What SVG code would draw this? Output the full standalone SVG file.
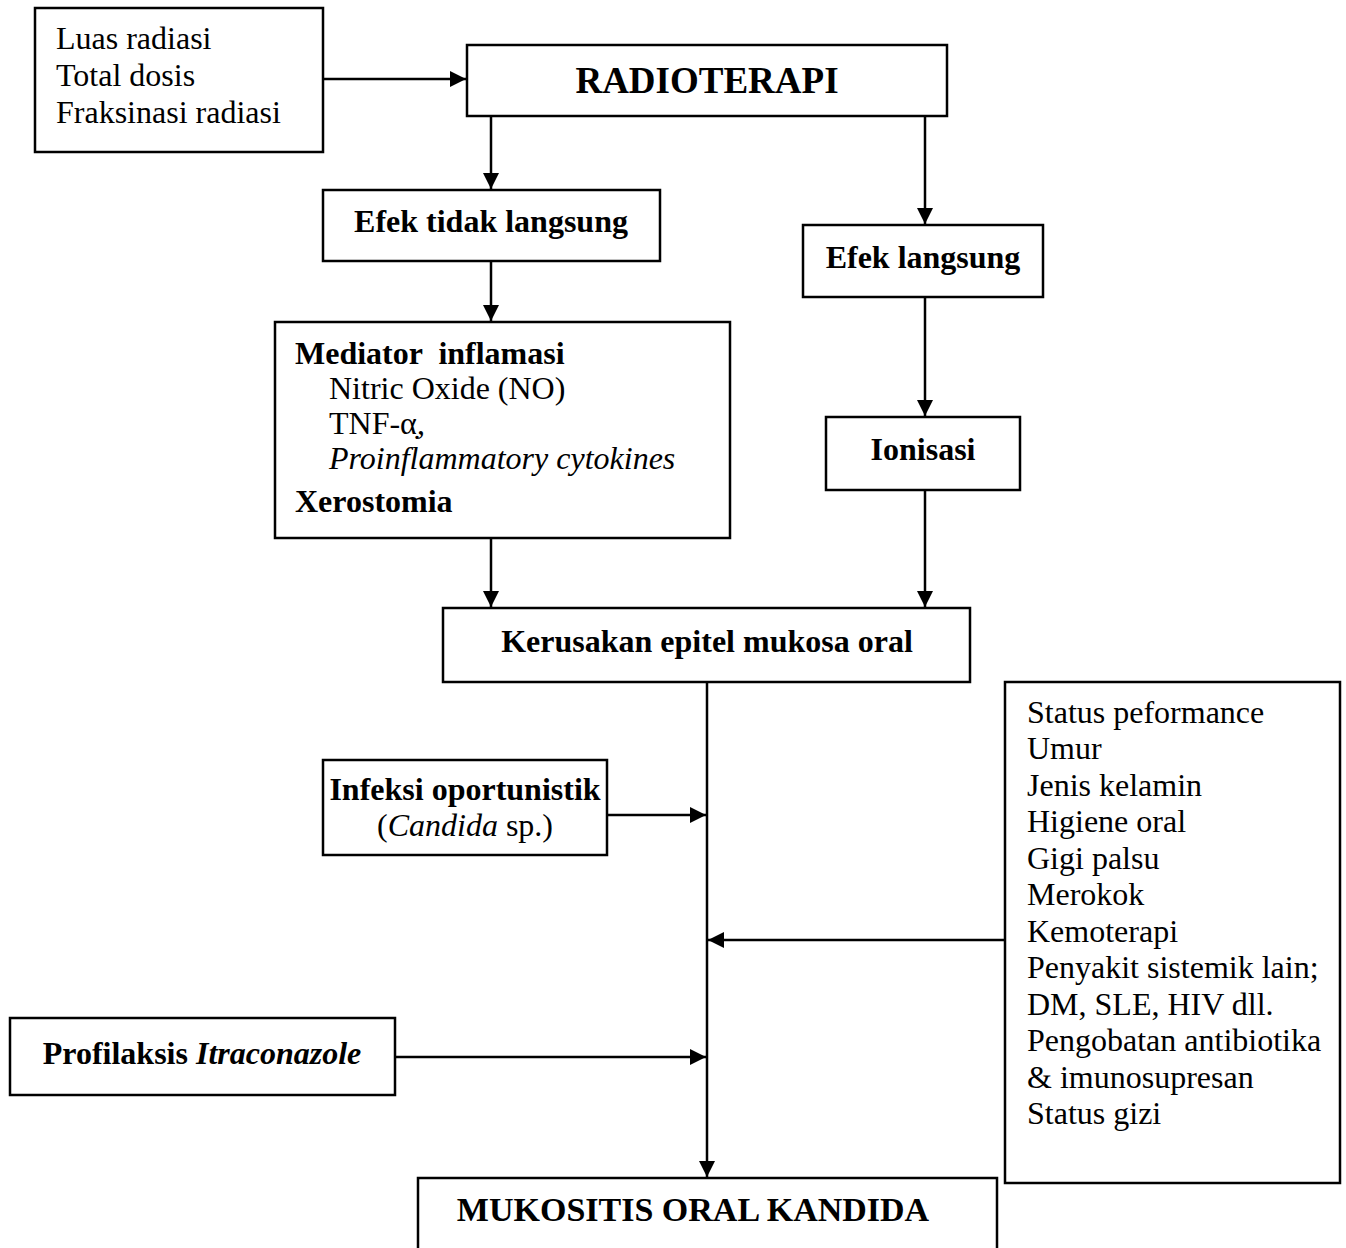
<svg xmlns="http://www.w3.org/2000/svg" width="1346" height="1248" viewBox="0 0 1346 1248">
<style>
.box{fill:#fff;stroke:#000;stroke-width:2.5}
.t{font-family:"Liberation Serif","Times New Roman",serif;font-size:32px;fill:#000}
.b{font-weight:bold}
.i{font-style:italic}
.c{text-anchor:middle}
.ln{stroke:#000;stroke-width:2.5;fill:none}
</style>
<defs>
<marker id="ah" viewBox="0 0 10 10" refX="10" refY="5" markerWidth="6.4" markerHeight="6.4" markerUnits="strokeWidth" orient="auto">
<path d="M0,0 L10,5 L0,10 z" fill="#000"/>
</marker>
</defs>
<rect width="1346" height="1248" fill="#fff"/>
<g id="connectors">
<line class="ln" x1="323" y1="79" x2="466" y2="79" marker-end="url(#ah)"/>
<line class="ln" x1="491" y1="116" x2="491" y2="189" marker-end="url(#ah)"/>
<line class="ln" x1="925" y1="116" x2="925" y2="224" marker-end="url(#ah)"/>
<line class="ln" x1="491" y1="261" x2="491" y2="321" marker-end="url(#ah)"/>
<line class="ln" x1="925" y1="297" x2="925" y2="416" marker-end="url(#ah)"/>
<line class="ln" x1="491" y1="538" x2="491" y2="607" marker-end="url(#ah)"/>
<line class="ln" x1="925" y1="490" x2="925" y2="607" marker-end="url(#ah)"/>
<line class="ln" x1="707" y1="682" x2="707" y2="1177" marker-end="url(#ah)"/>
<line class="ln" x1="607" y1="815" x2="706" y2="815" marker-end="url(#ah)"/>
<line class="ln" x1="1005" y1="940" x2="708" y2="940" marker-end="url(#ah)"/>
<line class="ln" x1="395" y1="1057" x2="706" y2="1057" marker-end="url(#ah)"/>
</g>
<g id="faktor-radiasi">
<rect class="box" x="35" y="8" width="288" height="144"/>
<text class="t" x="56" y="49">Luas radiasi</text>
<text class="t" x="56" y="86">Total dosis</text>
<text class="t" x="56" y="123">Fraksinasi radiasi</text>
</g>
<g id="radioterapi">
<rect class="box" x="467" y="45" width="480" height="71"/>
<text class="t b c" x="707" y="93" style="font-size:37px">RADIOTERAPI</text>
</g>
<g id="efek-tidak-langsung">
<rect class="box" x="323" y="190" width="337" height="71"/>
<text class="t b c" x="491" y="232">Efek tidak langsung</text>
</g>
<g id="efek-langsung">
<rect class="box" x="803" y="225" width="240" height="72"/>
<text class="t b c" x="923" y="268">Efek langsung</text>
</g>
<g id="mediator">
<rect class="box" x="275" y="322" width="455" height="216"/>
<text class="t b" x="295" y="364" xml:space="preserve">Mediator  inflamasi</text>
<text class="t" x="329" y="399">Nitric Oxide (NO)</text>
<text class="t" x="329" y="434">TNF-α̣,</text>
<text class="t i" x="329" y="469">Proinflammatory cytokines</text>
<text class="t b" x="295" y="512">Xerostomia</text>
</g>
<g id="ionisasi">
<rect class="box" x="826" y="417" width="194" height="73"/>
<text class="t b c" x="923" y="460">Ionisasi</text>
</g>
<g id="kerusakan">
<rect class="box" x="443" y="608" width="527" height="74"/>
<text class="t b c" x="707" y="652">Kerusakan epitel mukosa oral</text>
</g>
<g id="infeksi">
<rect class="box" x="323" y="760" width="284" height="95"/>
<text class="t b c" x="465" y="800">Infeksi oportunistik</text>
<text class="t c" x="465" y="836">(<tspan class="i">Candida</tspan> sp.)</text>
</g>
<g id="faktor-risiko">
<rect class="box" x="1005" y="682" width="335" height="501"/>
<text class="t" x="1027" y="723">Status peformance</text>
<text class="t" x="1027" y="759">Umur</text>
<text class="t" x="1027" y="796">Jenis kelamin</text>
<text class="t" x="1027" y="832">Higiene oral</text>
<text class="t" x="1027" y="869">Gigi palsu</text>
<text class="t" x="1027" y="905">Merokok</text>
<text class="t" x="1027" y="942">Kemoterapi</text>
<text class="t" x="1027" y="978">Penyakit sistemik lain;</text>
<text class="t" x="1027" y="1015">DM, SLE, HIV dll.</text>
<text class="t" x="1027" y="1051">Pengobatan antibiotika</text>
<text class="t" x="1027" y="1088">&amp; imunosupresan</text>
<text class="t" x="1027" y="1124">Status gizi</text>
</g>
<g id="profilaksis">
<rect class="box" x="10" y="1018" width="385" height="77"/>
<text class="t b c" x="202" y="1064">Profilaksis <tspan class="i">Itraconazole</tspan></text>
</g>
<g id="mukositis">
<rect class="box" x="418" y="1178" width="579" height="80"/>
<text class="t b c" x="693" y="1221" style="font-size:34px">MUKOSITIS ORAL KANDIDA</text>
</g>
</svg>
